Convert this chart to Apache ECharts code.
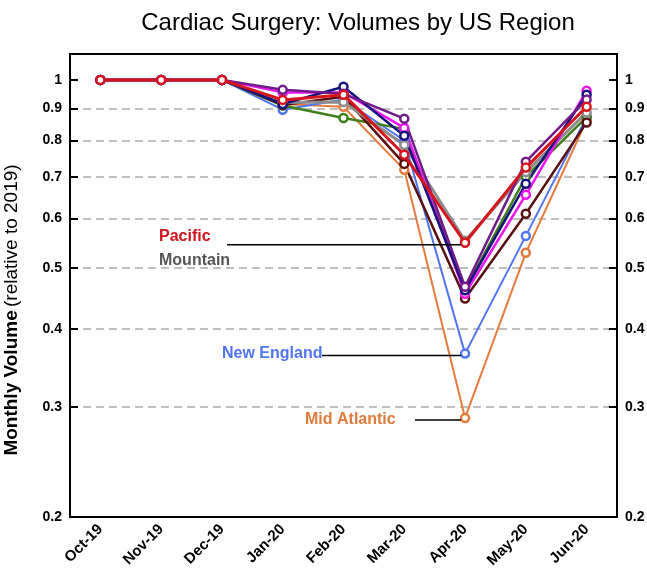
<!DOCTYPE html>
<html>
<head>
<meta charset="utf-8">
<script src="https://cdn.jsdelivr.net/npm/echarts@6/dist/echarts.min.js"></script>
<style>
  html, body { margin: 0; padding: 0; background: #fff; }
  #chart { width: 647px; height: 585px; }
</style>
</head>
<body>
<div id="chart"></div>
<script>
// months on the x axis
const months = ['Oct-19', 'Nov-19', 'Dec-19', 'Jan-20', 'Feb-20', 'Mar-20', 'Apr-20', 'May-20', 'Jun-20'];
// y ticks (log axis)
const yTicks = [0.2, 0.3, 0.4, 0.5, 0.6, 0.7, 0.8, 0.9, 1];

// monthly volume relative to 2019, per region
const midAtlantic      = [1, 1, 1, 0.915, 0.906, 0.718, 0.288, 0.529, 0.862];
const newEngland       = [1, 1, 1, 0.896, 0.930, 0.800, 0.365, 0.563, 0.872];
const eastNorthCentral = [1, 1, 1, 0.910, 0.869, 0.835, 0.462, 0.700, 0.872];
const westSouthCentral = [1, 1, 1, 0.912, 0.940, 0.734, 0.447, 0.611, 0.855];
const mountain         = [1, 1, 1, 0.920, 0.922, 0.787, 0.553, 0.712, 0.887];
const eastSouthCentral = [1, 1, 1, 0.955, 0.955, 0.838, 0.455, 0.655, 0.961];
const southAtlantic    = [1, 1, 1, 0.915, 0.975, 0.814, 0.461, 0.682, 0.947];
const westNorthCentral = [1, 1, 1, 0.964, 0.950, 0.867, 0.467, 0.740, 0.930];
const pacific          = [1, 1, 1, 0.929, 0.947, 0.759, 0.549, 0.724, 0.906];

const FONT = 'Liberation Sans, Arial, sans-serif';

function mkSeries(name, data, color, width, z) {
    return {
        name: name,
        type: 'line',
        data: data,
        z: z || 2,
        symbol: 'circle',
        symbolSize: 8,
        lineStyle: { color: color, width: width },
        itemStyle: { color: '#fff', borderColor: color, borderWidth: 2.5 },
        emphasis: { disabled: true },
        animation: false
    };
}

const fmt = v => String(Math.round(v * 10) / 10);

const chart = echarts.init(document.getElementById('chart'));
const option = {
    backgroundColor: '#fff',
    title: {
        text: 'Cardiac Surgery: Volumes by US Region',
        left: 353,
        textAlign: 'center',
        top: 6,
        textStyle: { fontFamily: FONT, fontSize: 24, fontWeight: 'normal', color: '#000' }
    },
    grid: {
        left: 70, right: 30, top: 54, bottom: 68,
        outerBoundsMode: 'none',
        containLabel: false,
        show: true, borderColor: '#000', borderWidth: 2, backgroundColor: 'transparent'
    },
    xAxis: {
        type: 'category',
        data: months,
        boundaryGap: true,
        axisLine: { lineStyle: { color: '#000', width: 2 } },
        axisTick: { alignWithLabel: true, length: 5, lineStyle: { color: '#000', width: 2 } },
        axisLabel: {
            rotate: 45, margin: 10, color: '#000',
            fontFamily: FONT, fontSize: 15, fontWeight: 'bold'
        },
        splitLine: { show: false }
    },
    yAxis: [{
        type: 'log',
        logBase: 10,
        min: 0.2,
        max: 1.1,
        position: 'left',
        axisLine: { show: true, lineStyle: { color: '#000', width: 2 } },
        axisTick: { show: true, inside: true, length: 8, customValues: yTicks, lineStyle: { color: '#000', width: 2 } },
        axisLabel: {
            customValues: yTicks, formatter: fmt, margin: 8, color: '#000',
            fontFamily: FONT, fontSize: 14, fontWeight: 'bold'
        },
        splitLine: {
            show: true,
            lineStyle: {
                color: ['transparent', '#aaa', '#aaa', '#aaa', '#aaa', '#aaa', '#aaa', '#aaa', 'transparent'],
                width: 1.5, type: [8, 5]
            }
        }
    }, {
        type: 'log',
        logBase: 10,
        min: 0.2,
        max: 1.1,
        position: 'right',
        axisLine: { show: true, lineStyle: { color: '#000', width: 2 } },
        axisTick: { show: true, inside: true, length: 8, customValues: yTicks, lineStyle: { color: '#000', width: 2 } },
        axisLabel: {
            customValues: yTicks, formatter: fmt, margin: 8, color: '#000',
            fontFamily: FONT, fontSize: 14, fontWeight: 'bold'
        },
        splitLine: { show: false }
    }],
    series: [
        mkSeries('Mid Atlantic', midAtlantic, '#e57b3c', 2),
        mkSeries('New England', newEngland, '#4f74f4', 2),
        mkSeries('East North Central', eastNorthCentral, '#3f7f1b', 2.5),
        mkSeries('West South Central', westSouthCentral, '#5a1010', 2.5),
        mkSeries('Mountain', mountain, '#8c8c8c', 3),
        mkSeries('East South Central', eastSouthCentral, '#ee14ee', 2.5),
        mkSeries('South Atlantic', southAtlantic, '#16137f', 2.5),
        mkSeries('West North Central', westNorthCentral, '#701a8a', 2.5),
        mkSeries('Pacific', pacific, '#d8141c', 3, 5)
    ]
};
chart.setOption(option);

// leader lines end at the Apr-20 points
const apr = months.indexOf('Apr-20');
const toPx = v => chart.convertToPixel({ xAxisIndex: 0, yAxisIndex: 0 }, [apr, v]);
const pPac = toPx(pacific[apr]);
const pNE = toPx(newEngland[apr]);
const pMA = toPx(midAtlantic[apr]);

function leader(x1, p) {
    return {
        type: 'line', z: 100,
        shape: { x1: x1, y1: p[1] + 2, x2: p[0] - 4, y2: p[1] + 2 },
        style: { stroke: '#000', lineWidth: 1.5 }
    };
}
function label(text, x, y, color) {
    return {
        type: 'text', z: 100, x: x, y: y,
        style: {
            text: text, fill: color, font: 'bold 16px ' + FONT,
            textAlign: 'left', textVerticalAlign: 'middle'
        }
    };
}

chart.setOption({
    graphic: [
        leader(227, pPac),
        leader(322, pNE),
        leader(415, pMA),
        label('Pacific', 159, 237, '#d0121b'),
        label('Mountain', 159, 261, '#555555'),
        label('New England', 222, 354, '#4f74f4'),
        label('Mid Atlantic', 305, 420, '#e07a3b'),
        {
            // y axis title, sits a bit below the plot middle as in the original
            type: 'text', z: 100, x: 12, y: 310, rotation: Math.PI / 2,
            style: {
                text: '{b|Monthly Volume} {n|(relative to 2019)}',
                textAlign: 'center', textVerticalAlign: 'middle',
                rich: {
                    b: { fontFamily: FONT, fontSize: 19, fontWeight: 'bold', fill: '#000' },
                    n: { fontFamily: FONT, fontSize: 19, fill: '#000' }
                }
            }
        }
    ]
});
</script>
</body>
</html>
